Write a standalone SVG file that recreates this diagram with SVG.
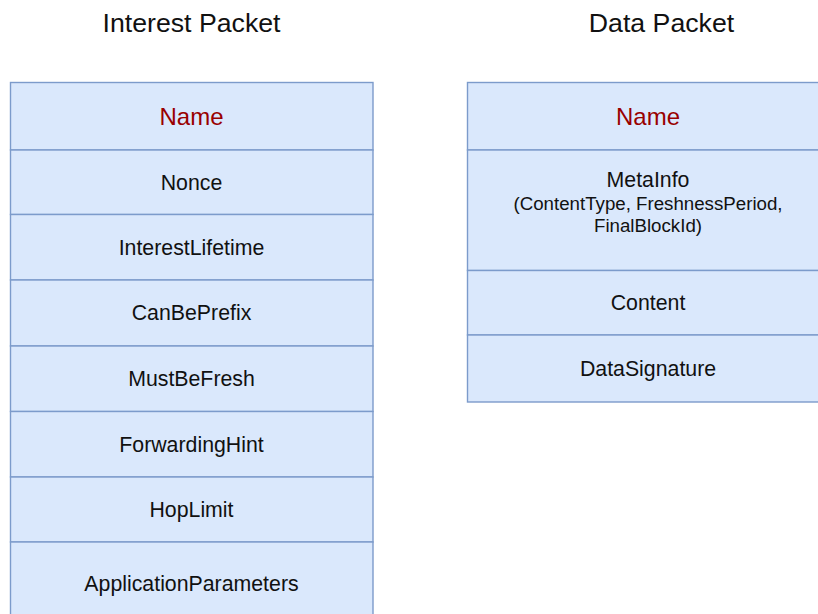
<svg xmlns="http://www.w3.org/2000/svg" width="818" height="614" viewBox="0 0 818 614">
<style>
.cell{fill:#dae8fc;stroke:#7c9bcb;stroke-width:1.4}
.t{font-family:"Liberation Sans",Arial,sans-serif;font-size:21.3px;fill:#111;text-anchor:middle;dominant-baseline:central}
.nm{font-size:24px;fill:#990000}
.sm{font-size:18.7px}
.title{font-family:"Liberation Sans",Arial,sans-serif;font-size:26.7px;fill:#111;text-anchor:middle;dominant-baseline:central}
</style>
<rect width="818" height="614" fill="#fff"/>
<text class="title" x="191.5" y="23">Interest Packet</text>
<text class="title" x="661.5" y="23">Data Packet</text>
<g id="interest">
<g id="i-name"><rect class="cell" x="10.5" y="82.5" width="362.5" height="67.5"/><text class="t nm" x="191.5" y="116">Name</text></g>
<g id="i-nonce"><rect class="cell" x="10.5" y="150" width="362.5" height="64.5"/><text class="t" x="191.5" y="183">Nonce</text></g>
<g id="i-lifetime"><rect class="cell" x="10.5" y="214.5" width="362.5" height="65.5"/><text class="t" x="191.5" y="247.5">InterestLifetime</text></g>
<g id="i-canbeprefix"><rect class="cell" x="10.5" y="280" width="362.5" height="66"/><text class="t" x="191.5" y="313">CanBePrefix</text></g>
<g id="i-mustbefresh"><rect class="cell" x="10.5" y="346" width="362.5" height="65.5"/><text class="t" x="191.5" y="379">MustBeFresh</text></g>
<g id="i-fwdhint"><rect class="cell" x="10.5" y="411.5" width="362.5" height="65.5"/><text class="t" x="191.5" y="444.5">ForwardingHint</text></g>
<g id="i-hoplimit"><rect class="cell" x="10.5" y="477" width="362.5" height="65"/><text class="t" x="191.5" y="510">HopLimit</text></g>
<g id="i-appparams"><rect class="cell" x="10.5" y="542" width="362.5" height="84"/><text class="t" x="191.5" y="583.5">ApplicationParameters</text></g>
</g>
<g id="data">
<g id="d-name"><rect class="cell" x="467.5" y="82.5" width="362.5" height="67.5"/><text class="t nm" x="648" y="116">Name</text></g>
<g id="d-metainfo"><rect class="cell" x="467.5" y="150" width="362.5" height="120.5"/><text class="t" x="648" y="180">MetaInfo</text><text class="t sm" x="648" y="203.5">(ContentType, FreshnessPeriod,</text><text class="t sm" x="648" y="225">FinalBlockId)</text></g>
<g id="d-content"><rect class="cell" x="467.5" y="270.5" width="362.5" height="64.5"/><text class="t" x="648" y="302.5">Content</text></g>
<g id="d-signature"><rect class="cell" x="467.5" y="335" width="362.5" height="67"/><text class="t" x="648" y="368.5">DataSignature</text></g>
</g>
<g id="connectors"/>
</svg>
